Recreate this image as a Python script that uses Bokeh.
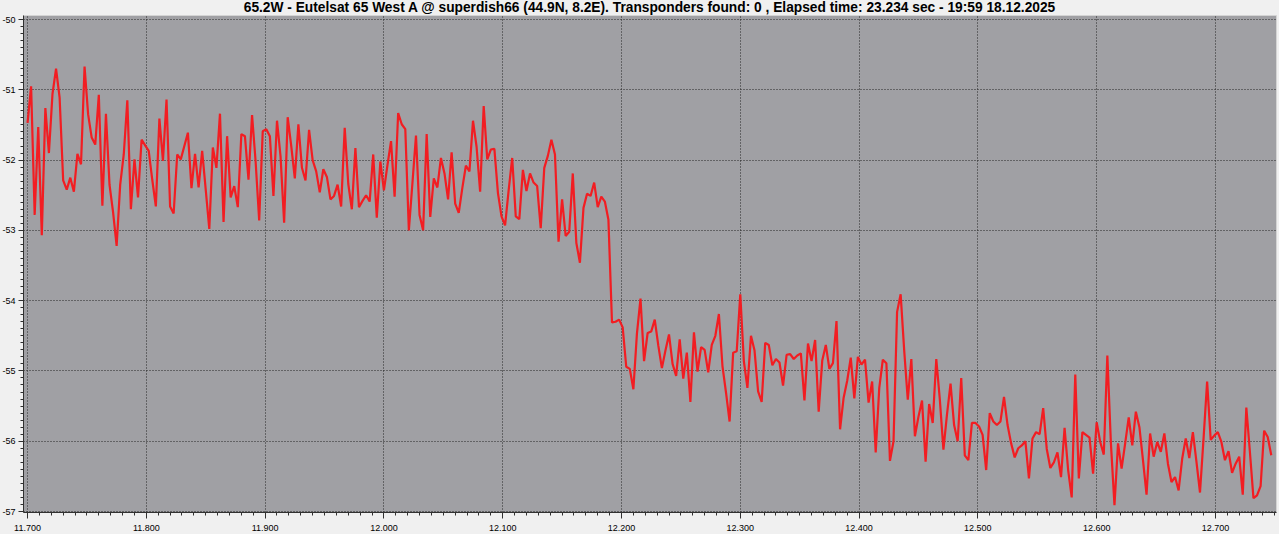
from bokeh.plotting import figure
from bokeh.models import FixedTicker, NumeralTickFormatter, Range1d
from bokeh.embed import file_html
from bokeh.resources import INLINE

title_text = ("65.2W - Eutelsat 65 West A @ superdish66 (44.9N, 8.2E). "
              "Transponders found: 0 , Elapsed time: 23.234 sec - 19:59 18.12.2025")

start_ghz = 11.700
step_ghz = 0.003

level_dbm = [
    -51.47, -50.95, -52.78, -51.53, -53.07, -51.26, -51.90, -51.06, -50.70, -51.11,
    -52.29, -52.42, -52.25, -52.45, -51.91, -52.06, -50.67, -51.35, -51.68, -51.78,
    -51.07, -52.65, -51.34, -52.35, -52.74, -53.22, -52.35, -51.92, -51.15, -52.70,
    -51.99, -52.53, -51.71, -51.79, -51.87, -52.28, -52.66, -51.41, -52.01, -51.14,
    -52.66, -52.76, -51.92, -51.99, -51.80, -51.61, -52.40, -51.91, -52.39, -51.87,
    -52.42, -52.98, -51.82, -52.11, -51.34, -52.88, -51.66, -52.53, -52.37, -52.67,
    -51.63, -51.66, -52.28, -51.36, -52.02, -52.86, -51.59, -51.56, -51.66, -52.51,
    -51.44, -51.95, -52.89, -51.39, -51.80, -52.26, -51.49, -52.11, -52.29, -51.57,
    -52.00, -52.16, -52.46, -52.13, -52.24, -52.56, -52.51, -52.35, -52.66, -51.54,
    -52.34, -52.70, -51.83, -52.67, -52.58, -52.50, -52.59, -51.92, -52.82, -52.02,
    -52.43, -52.07, -51.73, -52.52, -51.33, -51.49, -51.56, -53.00, -52.33, -51.65,
    -52.78, -53.00, -51.63, -52.81, -52.26, -52.39, -51.97, -52.19, -52.56, -51.89,
    -52.62, -52.75, -52.40, -52.08, -52.16, -51.44, -51.81, -52.45, -51.23, -51.99,
    -51.85, -51.84, -52.47, -52.80, -52.93, -52.43, -51.97, -52.80, -52.84, -52.14,
    -52.44, -52.19, -52.32, -52.37, -52.97, -52.11, -51.94, -51.71, -51.92, -53.16,
    -52.56, -53.08, -53.02, -52.19, -53.18, -53.46, -52.68, -52.48, -52.51, -52.32,
    -52.67, -52.52, -52.59, -52.85, -54.31, -54.30, -54.27, -54.38, -54.94, -54.97,
    -55.26, -54.47, -53.97, -54.86, -54.46, -54.44, -54.27, -54.64, -54.96, -54.71,
    -54.48, -54.90, -55.07, -54.55, -55.11, -54.74, -55.44, -54.45, -55.01, -54.66,
    -54.70, -55.02, -54.63, -54.50, -54.19, -54.93, -55.31, -55.72, -54.74, -54.72,
    -53.91, -54.86, -55.24, -54.50, -54.71, -55.29, -55.44, -54.60, -54.63, -54.92,
    -54.83, -54.88, -55.21, -54.77, -54.76, -54.83, -54.78, -54.75, -55.42, -54.61,
    -54.86, -54.56, -55.58, -54.85, -54.63, -54.97, -54.89, -54.29, -55.83, -55.38,
    -55.14, -54.81, -55.39, -54.80, -54.91, -54.84, -55.45, -55.15, -56.16, -55.24,
    -54.84, -54.89, -56.28, -56.00, -54.16, -53.91, -54.71, -55.41, -54.83, -55.93,
    -55.65, -55.42, -56.29, -55.47, -55.74, -54.83, -55.41, -56.12, -55.62, -55.18,
    -55.77, -56.00, -55.10, -56.20, -56.27, -55.74, -55.74, -55.79, -55.91, -56.41,
    -55.60, -55.72, -55.77, -55.72, -55.37, -55.77, -56.03, -56.23, -56.10, -56.06,
    -56.00, -56.53, -55.96, -55.87, -55.90, -55.53, -56.11, -56.38, -56.30, -56.16,
    -56.51, -55.81, -56.41, -56.80, -55.05, -56.53, -55.87, -55.91, -55.95, -56.46,
    -55.73, -56.01, -56.19, -54.78, -56.03, -56.91, -56.03, -56.39, -56.03, -55.66,
    -56.06, -55.58, -55.80, -56.27, -56.76, -55.89, -56.22, -56.01, -56.15, -55.89,
    -56.32, -56.58, -56.51, -56.70, -56.25, -55.96, -56.24, -55.87, -56.29, -56.73,
    -55.96, -55.15, -55.98, -55.92, -55.87, -56.01, -56.27, -56.14, -56.45, -56.32,
    -56.22, -56.76, -55.52, -56.15, -56.81, -56.77, -56.64, -55.85, -55.94, -56.20,
]

freq_ghz = [round(start_ghz + step_ghz * i, 3) for i in range(len(level_dbm))]

x_ticks = [11.7, 11.8, 11.9, 12.0, 12.1, 12.2, 12.3, 12.4, 12.5, 12.6, 12.7]
y_ticks = [-57, -56, -55, -54, -53, -52, -51, -50]

x_minor = [round(11.69 + 0.01 * i, 2) for i in range(108)]
y_minor = [round(-57.0 + 0.1 * i, 1) for i in range(71)]

p = figure(width=1283, height=538, output_backend="svg", toolbar_location=None,
           x_range=Range1d(11.6966, 12.7514), y_range=Range1d(-57.014, -49.943),
           min_border_left=27, min_border_right=3, min_border_top=19, min_border_bottom=22)
p.margin = (-4, -4, -4, -4)

p.background_fill_color = "#a0a0a4"
p.border_fill_color = "#f0f0f0"
p.outline_line_color = "#d4d4d4"
p.outline_line_width = 1

p.title.text = title_text
p.title.align = "center"
p.title.text_font = "Liberation Sans"
p.title.text_font_style = "bold"
p.title.text_font_size = "13.75px"
p.title.text_color = "#000000"
p.title.standoff = 1
p.title.offset = 0

p.xaxis.ticker = FixedTicker(ticks=x_ticks, minor_ticks=x_minor)
p.yaxis.ticker = FixedTicker(ticks=y_ticks, minor_ticks=y_minor)
p.xaxis.formatter = NumeralTickFormatter(format="0.000")
p.yaxis.formatter = NumeralTickFormatter(format="0")

for ax in (p.xaxis, p.yaxis):
    ax.axis_line_color = "#303030"
    ax.major_tick_line_color = "#303030"
    ax.minor_tick_line_color = "#303030"
    ax.major_tick_in = 0
    ax.minor_tick_in = 0
    ax.major_tick_out = 5
    ax.minor_tick_out = 3
    ax.major_label_text_font = "Liberation Sans"
    ax.major_label_text_font_size = "9px"
    ax.major_label_text_color = "#000000"
    ax.major_label_standoff = 3

p.xaxis.major_tick_out = 6
p.xaxis.major_label_standoff = 6

p.xgrid.ticker = FixedTicker(ticks=x_ticks)
p.ygrid.ticker = FixedTicker(ticks=y_ticks)
p.grid.grid_line_color = "#262626"
p.grid.grid_line_dash = "1 2"
p.grid.grid_line_width = 1

p.line(freq_ghz, level_dbm, line_color="#f21d22", line_width=2.2)

open("out.html", "w").write(file_html(p, INLINE))
